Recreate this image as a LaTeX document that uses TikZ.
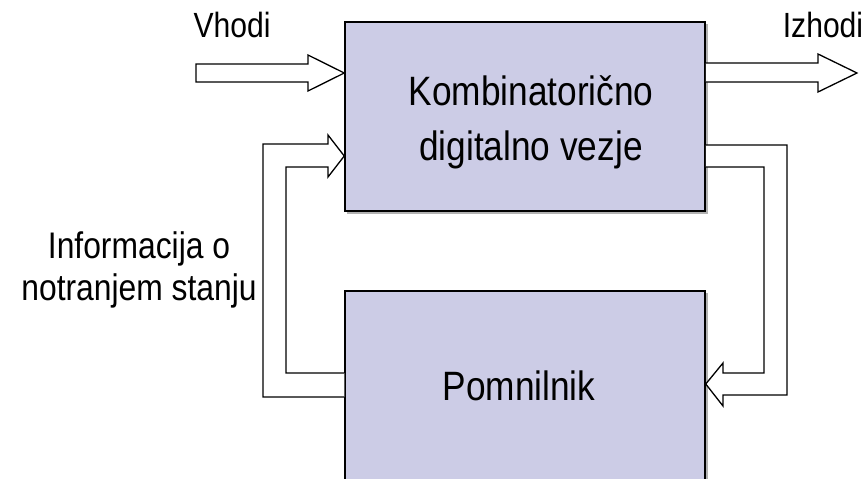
\documentclass[tikz,border=0pt]{standalone}
\usepackage{fontspec}
\setmainfont{Liberation Sans}
\newfontfamily\narrowsans[FakeStretch=0.86]{Liberation Sans}
\definecolor{boxfill}{RGB}{204,204,230}
\begin{document}
\begin{tikzpicture}[x=1pt,y=-1pt,
  blk/.style={draw=black, line width=1.5pt, fill=boxfill, inner sep=0pt},
  blockarrow/.style={draw=black, line width=1.3pt, fill=white, line join=miter},
  lbl/.style={font=\narrowsans\fontsize{35}{42}\selectfont, align=center, inner sep=0pt},
  infolbl/.style={font=\narrowsans\fontsize{37}{42}\selectfont, align=center, inner sep=0pt},
  mainlbl/.style={font=\narrowsans\fontsize{41}{55}\selectfont, align=center, inner sep=0pt}]
\useasboundingbox (0,0) rectangle (868,479);
\clip (0,0) rectangle (868,479);
% shadows
\fill[gray!60] (347,24) rectangle (707.5,213.5);
\fill[gray!60] (347,293) rectangle (707.5,500);
% boxes
\node[blk, minimum width=360pt, minimum height=189pt] (komb) at (525,116.5) {};
\node[blk, minimum width=360pt, minimum height=209pt] (pomn) at (525,395.5) {};
% texts
\node[mainlbl] (kt) at (531,122) {Kombinatorično\\digitalno vezje};
\node[mainlbl] (pt) at (519,386) {Pomnilnik};
\node[lbl, anchor=base] (vh) at (232,37) {Vhodi};
\node[lbl, anchor=base] (iz) at (823,37) {Izhodi};
\node[infolbl] (info) at (139,270) {Informacija o\\notranjem stanju};
% block arrows
\draw[blockarrow] (196,64) -- (308,64) -- (308,55) -- (komb.west |- 0,73) -- (308,91) -- (308,82) -- (196,82) -- cycle;
\draw[blockarrow] (komb.east |- 0,63) -- (818,63) -- (818,54) -- (857,73) -- (818,92) -- (818,82) -- (komb.east |- 0,82);
\draw[blockarrow] (pomn.west |- 0,397) -- (263,397) -- (263,144) -- (328,144) -- (328,135) -- (komb.west |- 0,156) -- (328,177) -- (328,167) -- (286,167) -- (286,373) -- (pomn.west |- 0,373);
\draw[blockarrow] (komb.east |- 0,145) -- (787,145) -- (787,395) -- (723,395) -- (723,406) -- (pomn.east |- 0,384) -- (723,363) -- (723,373) -- (764,373) -- (764,167) -- (komb.east |- 0,167);
\end{tikzpicture}
\end{document}
